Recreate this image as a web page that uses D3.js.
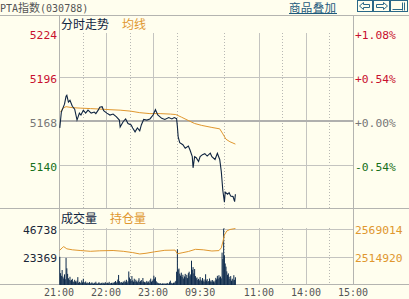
<!DOCTYPE html>
<html>
<head>
<meta charset="utf-8">
<script src="https://cdn.jsdelivr.net/npm/d3@7"></script>
<style>
  html, body { margin: 0; padding: 0; background: #fffeee; }
  svg { display: block; }
</style>
</head>
<body>
<div id="chart"></div>
<script>
// ---- data ----
const priceTimes = ["21:01","21:03","21:05","21:07","21:09","21:10","21:12","21:14","21:17","21:20",
  "21:23","21:26","21:28","21:31","21:34","21:37","21:41","21:45","21:47","21:50",
  "21:52","21:55","21:57","22:01","22:05","22:09","22:13","22:17","22:18","22:22",
  "22:25","22:28","22:32","22:34","22:37","22:40","22:43","22:45","22:48","22:52",
  "22:56","23:00","23:03","23:06","23:11","23:15","23:20","23:24","23:27","23:30",
  "09:01","09:02","09:04","09:08","09:11","09:15","09:17","09:20","09:21","09:23",
  "09:25","09:28","09:30","09:33","09:36","09:39","09:43","09:45","09:49","09:52",
  "09:55","09:57","09:59","10:01","10:02","10:05","10:07","10:09","10:12","10:14","10:15"];
const priceValues = [5163.6,5173.7,5176.2,5178.7,5183.7,5184.4,5180.0,5181.2,5177.4,5175.5,
  5168.6,5173.0,5171.8,5174.9,5173.0,5174.9,5173.0,5173.7,5172.7,5174.9,
  5176.8,5177.1,5174.6,5173.0,5171.8,5172.4,5170.8,5168.6,5164.2,5167.7,
  5169.3,5166.4,5165.5,5163.6,5161.1,5163.6,5161.7,5165.5,5169.0,5168.6,
  5169.3,5171.8,5175.2,5171.8,5169.7,5169.0,5170.2,5169.3,5170.2,5169.5,
  5164.4,5157.9,5154.2,5152.9,5150.7,5152.0,5149.7,5145.3,5138.2,5145.3,
  5144.7,5142.2,5145.3,5146.6,5147.2,5145.7,5147.5,5145.3,5143.5,5147.5,
  5143.5,5135.9,5123.6,5116.4,5122.7,5121.4,5122.4,5120.2,5119.9,5116.7,5121.4];

const avgTimes = ["21:02","21:05","21:09","21:17","21:27","21:40","21:52","22:05","22:18","22:31",
  "22:43","22:56","23:09","23:22","23:29","09:06","09:15","09:23","09:32","09:45",
  "09:55","09:59","10:03","10:08","10:15"];
const avgValues = [5173.7,5176.2,5177.1,5176.5,5176.2,5175.9,5175.6,5175.2,5174.9,5174.3,
  5173.3,5172.7,5172.7,5172.4,5172.1,5170.5,5168.3,5166.4,5165.2,5163.9,
  5163.0,5159.8,5156.4,5154.8,5153.3];

const oiTimes = ["21:01","21:04","21:06","21:10","21:17","21:27","21:40","21:52","22:09","22:22",
  "22:34","22:43","22:51","23:02","23:15","23:28","09:01","09:07","09:15","09:24",
  "09:34","09:45","09:54","09:57","09:59","10:01","10:04","10:08","10:12","10:15"];
const oiValues = [2527257,2532002,2534280,2530104,2528206,2526877,2525359,2526308,2526877,2525359,
  2522892,2520234,2521563,2524410,2527257,2527637,2520614,2522512,2524979,2529155,
  2528206,2525928,2526688,2532002,2543390,2556676,2564268,2567115,2568200,2569014];

// one bar per minute, first bar is 21:01
const volumeValues = [
  23300, 9800, 7600,12400, 6900, 5400, 8800, 4800,22400,13800,
   9200, 5600, 4100, 6800, 3600, 4200, 5100, 2900, 2400, 4300,
   3100, 2200, 3600, 6500, 1800, 2600, 2000, 1500, 3800, 2200,
   5200, 2400, 1600, 2900, 1400, 2100, 1300, 1800, 2500, 1200,
   1600, 2200, 1400, 1100, 1900, 1500, 2700, 1300, 1000, 1700,
   2300, 1400, 1200, 1800, 1100, 2000, 1500, 1300, 2400, 1600,
   1200, 1900, 1400, 2600, 1100, 1500, 1800, 1300, 2100, 1700,
   2400, 3300, 1800, 2600, 4500, 8300, 3200, 2200, 1800, 2500,
   1700, 2900, 2100, 3600, 2400, 4300, 2000, 3100,11200, 6200,
   4800, 3300, 7400, 3900, 2800, 5200, 2600, 4400, 3100, 2300,
   3700, 5600, 2500, 3200, 4100, 2200, 5800, 3000, 2400, 1900,
   2600, 3400, 2100, 2900, 1800, 3900, 5300, 2700, 3400, 4600,
   7700, 5200, 6400, 3100, 2200, 1800, 1400, 1100, 1600, 1200,
    900, 1300, 1000, 1500,  800, 1200, 1100, 1700, 1300, 1000,
   2300, 3600, 1800, 1400, 1200, 1900, 1600, 2600, 3400,11000,
  29500,12800,13600, 9400, 7800,10200, 6600, 8500, 5400, 7100,
   9200, 6300, 8400, 5700, 9800,11000, 7200, 8800,20100,12600,
  14800, 9600,13200, 7400, 5600, 6300, 4200, 5100, 3800, 6600,
   4400, 3500, 5800, 3100, 4600, 2800, 8900, 3700, 4900, 2600,
   3300, 5400, 2900, 3800, 2400, 4100, 3000, 2200, 3600, 5900,
   4700, 7600, 5300, 8100, 6200, 7000, 5500,26800,21500,46738,
  24500,17800,15200,11300, 8400, 9600, 6800, 4900, 7400, 3600,
   5200, 3900, 8100, 4300, 6400];

const priceTicks = [5224, 5196, 5168, 5140];
const pctLabels = ["+1.08%", "+0.54%", "+0.00%", "-0.54%"];
const volTicks = [46738, 23369];
const oiTicks = [2569014, 2514920];
const timeLabels = ["21:00", "22:00", "23:00", "09:30", "11:00", "14:00", "15:00"];
const solidGrid = ["22:00", "23:00", "11:00", "14:00"];
const dottedGrid = ["21:30", "22:30", "23:30", "10:00", "11:30", "14:30"];
const sessions = [["21:00", "23:30"], ["09:00", "10:15"], ["10:30", "11:30"], ["13:30", "15:00"]];

// ---- trading-time helpers ----
function toMin(s) { const [h, m] = s.split(':').map(Number); return h * 60 + m; }
function tradeIndex(s) {
  const m = toMin(s);
  let acc = 0;
  for (const [a, b] of sessions) {
    const A = toMin(a), B = toMin(b);
    if (m >= A && m <= B) return acc + m - A;
    acc += B - A;
  }
  return acc;
}

const W = 409, H = 299;
const L = 59, R = 353;
const mono = '"DejaVu Sans Mono", "Liberation Mono", monospace';
const cjk = '"Noto Sans CJK SC", "Noto Sans", sans-serif';
const gridCol = '#c4c4c0', borderCol = '#b4b4b0';
const navy = '#0f2440', orange = '#e0972e';

const svg = d3.select('#chart').append('svg')
  .attr('width', W).attr('height', H)
  .style('background', '#fffeee');

const x = d3.scaleLinear().domain([0, 375]).range([L, R]);
const yP = d3.scaleLinear().domain([5112, 5224]).range([209, 33]);
const yV = d3.scaleLinear().domain([0, 46738]).range([285, 228.5]);
const yOI = d3.scaleLinear().domain([2514920, 2569014]).range([256.75, 228.5]);

const crisp = v => Math.round(v) + 0.5;

// ---- vertical grid ----
const vGrid = svg.append('g');
[[33, 208], [228, 284]].forEach(([y0, y1]) => {
  vGrid.selectAll(null).data(solidGrid).enter().append('line')
    .attr('x1', d => crisp(x(tradeIndex(d)))).attr('x2', d => crisp(x(tradeIndex(d))))
    .attr('y1', y0).attr('y2', y1)
    .attr('stroke', gridCol).attr('stroke-width', 1);
  vGrid.selectAll(null).data(dottedGrid).enter().append('line')
    .attr('x1', d => crisp(x(tradeIndex(d)))).attr('x2', d => crisp(x(tradeIndex(d))))
    .attr('y1', y0).attr('y2', y1)
    .attr('stroke', '#b8b8b4').attr('stroke-width', 1).attr('stroke-dasharray', '1,2');
});

// ---- horizontal grid ----
svg.selectAll(null).data(priceTicks.filter(d => d !== 5224 && d !== 5168)).enter().append('line')
  .attr('x1', L).attr('x2', R)
  .attr('y1', d => crisp(yP(d))).attr('y2', d => crisp(yP(d)))
  .attr('stroke', gridCol);
svg.append('line')
  .attr('x1', L).attr('x2', R).attr('y1', yP(5168)).attr('y2', yP(5168))
  .attr('stroke', '#b0b0ae').attr('stroke-width', 2);
svg.selectAll(null).data(volTicks).enter().append('line')
  .attr('x1', L).attr('x2', R)
  .attr('y1', d => crisp(yV(d))).attr('y2', d => crisp(yV(d)))
  .attr('stroke', gridCol);

// ---- frame ----
[15, 208, 284].forEach(yy => {
  svg.append('line').attr('x1', 0).attr('x2', W).attr('y1', yy + 0.5).attr('y2', yy + 0.5)
    .attr('stroke', borderCol);
});
[L, R].forEach(xx => {
  svg.append('line').attr('x1', xx + 0.5).attr('x2', xx + 0.5).attr('y1', 15).attr('y2', 284)
    .attr('stroke', borderCol);
});

// ---- volume bars ----
svg.append('g').selectAll('rect').data(volumeValues).enter().append('rect')
  .attr('x', (d, i) => x(i + 1) - 0.5)
  .attr('width', 1)
  .attr('y', d => yV(d))
  .attr('height', d => yV(0) - yV(d))
  .attr('fill', '#0d2a4c');

// ---- open interest line ----
svg.append('path')
  .datum(oiTimes.map((t, i) => [tradeIndex(t), oiValues[i]]))
  .attr('fill', 'none').attr('stroke', orange).attr('stroke-width', 1)
  .attr('d', d3.line().x(d => x(d[0])).y(d => yOI(d[1])));

// ---- average price line ----
svg.append('path')
  .datum(avgTimes.map((t, i) => [tradeIndex(t), avgValues[i]]))
  .attr('fill', 'none').attr('stroke', orange).attr('stroke-width', 1)
  .attr('d', d3.line().x(d => x(d[0])).y(d => yP(d[1])));

// ---- price line ----
svg.append('path')
  .datum(priceTimes.map((t, i) => [tradeIndex(t), priceValues[i]]))
  .attr('fill', 'none').attr('stroke', navy).attr('stroke-width', 1.1)
  .attr('d', d3.line().x(d => x(d[0])).y(d => yP(d[1])));

// ---- axis labels ----
const priceColor = d => d > 5168 ? '#c8102e' : (d < 5168 ? '#17701a' : '#777');
svg.selectAll(null).data(priceTicks).enter().append('text')
  .attr('x', 57).attr('y', d => yP(d) + 6)
  .attr('text-anchor', 'end')
  .style('font', `11.3px ${mono}`)
  .attr('fill', priceColor)
  .text(d => d);
svg.selectAll(null).data(pctLabels).enter().append('text')
  .attr('x', 355).attr('y', (d, i) => yP(priceTicks[i]) + 6)
  .style('font', `11.3px ${mono}`)
  .attr('fill', (d, i) => priceColor(priceTicks[i]))
  .text(d => d);
svg.selectAll(null).data(volTicks).enter().append('text')
  .attr('x', 57).attr('y', d => yV(d) + 5.5)
  .attr('text-anchor', 'end')
  .style('font', `11.3px ${mono}`)
  .attr('fill', '#1a2638')
  .text(d => d);
svg.selectAll(null).data(oiTicks).enter().append('text')
  .attr('x', 355).attr('y', d => yOI(d) + 5.5)
  .style('font', `11.3px ${mono}`)
  .attr('fill', orange)
  .text(d => d);
svg.selectAll(null).data(timeLabels).enter().append('text')
  .attr('x', d => x(tradeIndex(d))).attr('y', 296)
  .attr('text-anchor', 'middle')
  .style('font', `10px ${mono}`)
  .attr('fill', '#555')
  .text(d => d);

// ---- legends ----
svg.append('text').attr('x', 61).attr('y', 29).style('font', `12px ${cjk}`).attr('fill', navy).text('分时走势');
svg.append('text').attr('x', 122).attr('y', 29).style('font', `12px ${cjk}`).attr('fill', orange).text('均线');
svg.append('text').attr('x', 61).attr('y', 223).style('font', `12px ${cjk}`).attr('fill', navy).text('成交量');
svg.append('text').attr('x', 110).attr('y', 223).style('font', `12px ${cjk}`).attr('fill', orange).text('持仓量');

// ---- title bar ----
const title = svg.append('text').attr('x', 0).attr('y', 12).attr('fill', '#555');
title.append('tspan').style('font', `10px ${mono}`).text('PTA');
title.append('tspan').style('font', `11px ${cjk}`).text('指数');
title.append('tspan').style('font', `10px ${mono}`).text('(030788)');

svg.append('text').attr('x', 289).attr('y', 11.5)
  .style('font', `11.5px ${cjk}`).attr('fill', '#1d5a7c')
  .attr('textLength', 47)
  .text('商品叠加');
svg.append('line').attr('x1', 289).attr('x2', 337).attr('y1', 13.5).attr('y2', 13.5)
  .attr('stroke', '#1d5a7c');

// navigation buttons
const ic = svg.append('g').attr('stroke', '#2a6888').attr('fill', 'none').attr('stroke-width', 1);
[[357.5, 15], [373.5, 16], [390.5, 17]].forEach(([bx, bw]) => {
  ic.append('rect').attr('x', bx).attr('y', 0.5).attr('width', bw).attr('height', 11);
});
ic.append('path').attr('d', 'M359.5,6 L363.5,2.5 L363.5,4.5 L369.5,4.5 L369.5,7.5 L363.5,7.5 L363.5,9.5 Z');
ic.append('path').attr('d', 'M387.5,6 L383.5,2.5 L383.5,4.5 L376.5,4.5 L376.5,7.5 L383.5,7.5 L383.5,9.5 Z');
ic.append('path').attr('d', 'M392.5,9.5 L402.5,9.5 M402.5,2.5 L402.5,10.5 M404.5,2.5 L404.5,10.5');
</script>
</body>
</html>
